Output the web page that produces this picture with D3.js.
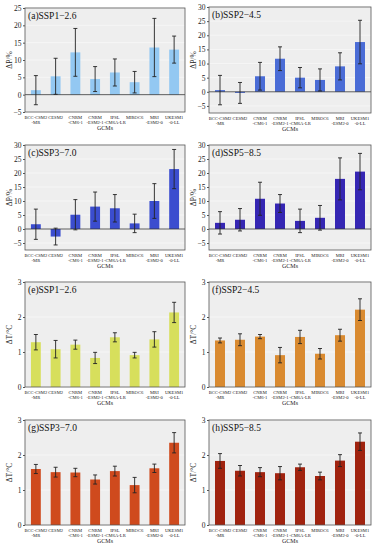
<!DOCTYPE html>
<html>
<head>
<meta charset="utf-8">
<script src="https://cdn.jsdelivr.net/npm/d3@7"></script>
<style>
  body { margin: 0; background: #fff; }
  svg { display: block; font-family: "Liberation Serif", "Times New Roman", serif; }
</style>
</head>
<body>
<div id="chart"></div>
<script>
// GCM names (two lines each)
var gcms = ["BCC-CSM2|-MR", "CESM2", "CNRM|-CM6-1", "CNRM|-ESM2-1", "IPSL|-CM6A-LR", "MIROC6", "MRI|-ESM2-0", "UKESM1|-0-LL"]

// precipitation change (%) and its spread
var dP126 = [1.3, 5.3, 12.2, 4.5, 6.4, 3.6, 13.6, 13.0]
var dP126Err = [4.2, 5.2, 6.9, 3.6, 3.9, 3.1, 8.4, 3.9]
var dP245 = [0.6, -0.4, 5.5, 11.7, 5.0, 4.2, 9.0, 17.6]
var dP245Err = [5.2, 3.7, 4.9, 4.2, 3.6, 3.9, 4.8, 7.7]
var dP370 = [1.7, -2.7, 5.1, 8.0, 7.4, 2.0, 10.0, 21.4]
var dP370Err = [5.4, 3.0, 5.4, 5.2, 4.9, 3.3, 6.2, 7.0]
var dP585 = [2.2, 3.3, 10.8, 9.1, 2.9, 4.0, 17.9, 20.5]
var dP585Err = [4.0, 4.0, 5.9, 3.2, 4.2, 4.4, 7.5, 6.5]

// temperature change (°C) and its spread
var dT126 = [1.28, 1.08, 1.21, 0.83, 1.42, 0.91, 1.36, 2.13]
var dT126Err = [0.22, 0.25, 0.13, 0.16, 0.13, 0.08, 0.22, 0.29]
var dT245 = [1.33, 1.35, 1.44, 0.91, 1.43, 0.95, 1.48, 2.21]
var dT245Err = [0.07, 0.17, 0.06, 0.22, 0.19, 0.15, 0.17, 0.31]
var dT370 = [1.60, 1.51, 1.50, 1.30, 1.54, 1.14, 1.62, 2.35]
var dT370Err = [0.13, 0.14, 0.12, 0.13, 0.14, 0.22, 0.12, 0.29]
var dT585 = [1.83, 1.55, 1.51, 1.48, 1.65, 1.40, 1.84, 2.38]
var dT585Err = [0.21, 0.15, 0.13, 0.19, 0.09, 0.11, 0.17, 0.25]

var pTicks = [-5, 0, 5, 10, 15, 20, 25, 30]
var tTicks = [0, 1, 2, 3]

var panels = [
  {title: "(a)SSP1\u22122.6", v: dP126, e: dP126Err, color: "#93c8f2", ylab: "\u0394P/%", dom: [-5, 25], x0: 25, x1: 185, y0: 8, y1: 112},
  {title: "(b)SSP2\u22124.5", v: dP245, e: dP245Err, color: "#4a6cd6", ylab: "\u0394P/%", dom: [-7.5, 30], x0: 209, x1: 371, y0: 7, y1: 113},
  {title: "(c)SSP3\u22127.0", v: dP370, e: dP370Err, color: "#3b4dcf", ylab: "\u0394P/%", dom: [-7.5, 30], x0: 25, x1: 185, y0: 145, y1: 250},
  {title: "(d)SSP5\u22128.5", v: dP585, e: dP585Err, color: "#3526b3", ylab: "\u0394P/%", dom: [-7.5, 30], x0: 209, x1: 371, y0: 145, y1: 250},
  {title: "(e)SSP1\u22122.6", v: dT126, e: dT126Err, color: "#d7df5c", ylab: "\u0394T/\u00b0C", dom: [0, 3], x0: 25, x1: 185, y0: 282, y1: 387},
  {title: "(f)SSP2\u22124.5", v: dT245, e: dT245Err, color: "#d98a30", ylab: "\u0394T/\u00b0C", dom: [0, 3], x0: 209, x1: 371, y0: 282, y1: 387},
  {title: "(g)SSP3\u22127.0", v: dT370, e: dT370Err, color: "#cf4a1d", ylab: "\u0394T/\u00b0C", dom: [0, 3], x0: 25, x1: 185, y0: 420, y1: 525},
  {title: "(h)SSP5\u22128.5", v: dT585, e: dT585Err, color: "#a0230f", ylab: "\u0394T/\u00b0C", dom: [0, 3], x0: 209, x1: 371, y0: 420, y1: 525}
]

var svg = d3.select("#chart").append("svg")
  .attr("width", 372)
  .attr("height", 550)

panels.forEach(function(p) {
  var g = svg.append("g")

  var x = d3.scaleBand()
    .domain(gcms)
    .range([p.x0, p.x1])
    .paddingInner(0.5)
    .paddingOuter(0.3)

  var y = d3.scaleLinear()
    .domain(p.dom)
    .range([p.y1, p.y0])

  var ticks = (p.dom[1] > 3 ? pTicks : tTicks).filter(function(t) { return t >= p.dom[0] && t <= p.dom[1] })

  // plot background
  g.append("rect")
    .attr("x", p.x0).attr("y", p.y0)
    .attr("width", p.x1 - p.x0).attr("height", p.y1 - p.y0)
    .attr("fill", "#eeeeee")

  // faint grid
  g.selectAll(".grid")
    .data(ticks)
    .enter().append("line")
    .attr("x1", p.x0).attr("x2", p.x1)
    .attr("y1", function(d) { return y(d) }).attr("y2", function(d) { return y(d) })
    .attr("stroke", "#f8f8f8")
    .attr("stroke-width", 0.8)

  // bars
  g.selectAll(".bar")
    .data(p.v)
    .enter().append("rect")
    .attr("x", function(d, i) { return x(gcms[i]) })
    .attr("y", function(d) { return y(Math.max(0, d)) })
    .attr("width", x.bandwidth())
    .attr("height", function(d) { return Math.abs(y(d) - y(0)) })
    .attr("fill", p.color)

  // zero line
  if (p.dom[0] < 0) {
    g.append("line")
      .attr("x1", p.x0).attr("x2", p.x1)
      .attr("y1", y(0)).attr("y2", y(0))
      .attr("stroke", "#333")
      .attr("stroke-width", 0.8)
  }

  // error bars
  var cap = 2
  p.v.forEach(function(d, i) {
    var cx = x(gcms[i]) + x.bandwidth() / 2
    var lo = y(d - p.e[i]), hi = y(d + p.e[i])
    g.append("line").attr("x1", cx).attr("x2", cx).attr("y1", lo).attr("y2", hi)
      .attr("stroke", "#222").attr("stroke-width", 0.9)
    g.append("line").attr("x1", cx - cap).attr("x2", cx + cap).attr("y1", lo).attr("y2", lo)
      .attr("stroke", "#222").attr("stroke-width", 0.9)
    g.append("line").attr("x1", cx - cap).attr("x2", cx + cap).attr("y1", hi).attr("y2", hi)
      .attr("stroke", "#222").attr("stroke-width", 0.9)
  })

  // frame
  g.append("rect")
    .attr("x", p.x0).attr("y", p.y0)
    .attr("width", p.x1 - p.x0).attr("height", p.y1 - p.y0)
    .attr("fill", "none")
    .attr("stroke", "#555")
    .attr("stroke-width", 0.8)

  // y axis
  var yAxis = g.append("g")
    .attr("transform", "translate(" + p.x0 + ",0)")
    .call(d3.axisLeft(y).tickValues(ticks).tickFormat(d3.format("d")).tickSize(2).tickPadding(1.5))
  yAxis.select(".domain").remove()
  yAxis.selectAll("line").attr("stroke", "#555")
  yAxis.selectAll("text")
    .style("font-family", "Liberation Serif")
    .style("font-size", "7.5px")
    .attr("fill", "#222")

  // x labels
  gcms.forEach(function(name, i) {
    var cx = x(name) + x.bandwidth() / 2
    var lines = name.split("|")
    lines.forEach(function(l, k) {
      g.append("text")
        .attr("x", cx)
        .attr("y", p.y1 + 6.5 + k * 5.2)
        .attr("text-anchor", "middle")
        .style("font-size", "4.6px")
        .attr("fill", "#222")
        .text(l)
    })
  })

  g.append("text")
    .attr("x", (p.x0 + p.x1) / 2)
    .attr("y", p.y1 + 18)
    .attr("text-anchor", "middle")
    .style("font-size", "6px")
    .attr("fill", "#222")
    .text("GCMs")

  // y label
  g.append("text")
    .attr("transform", "translate(" + (p.x0 - 13) + "," + ((p.y0 + p.y1) / 2) + ")rotate(-90)")
    .attr("text-anchor", "middle")
    .style("font-size", "7.5px")
    .attr("fill", "#222")
    .text(p.ylab)

  // panel title
  g.append("text")
    .attr("x", p.x0 + 3)
    .attr("y", p.y0 + 11)
    .style("font-size", "9.5px")
    .attr("fill", "#111")
    .text(p.title)
})
</script>
</body>
</html>
